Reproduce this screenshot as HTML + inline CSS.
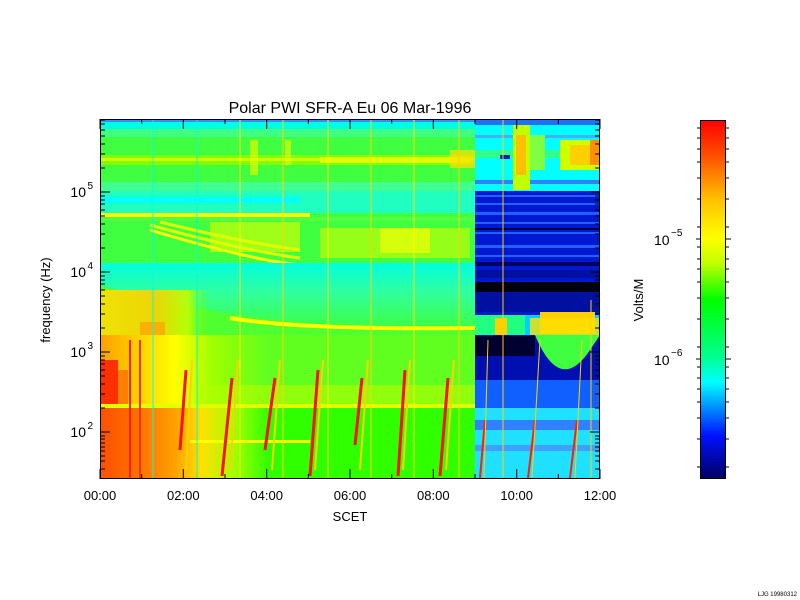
<!DOCTYPE html>
<html><head><meta charset="utf-8"><style>
html,body{margin:0;padding:0;background:#fff;width:800px;height:600px;overflow:hidden}
svg{display:block}
text{font-family:"Liberation Sans",sans-serif;fill:#000}
</style></head><body>
<svg width="800" height="600" viewBox="0 0 800 600" xmlns="http://www.w3.org/2000/svg">
<defs>
<linearGradient id="cb" x1="0" y1="1" x2="0" y2="0">
<stop offset="0" stop-color="#000060"/>
<stop offset="0.12" stop-color="#0010ff"/>
<stop offset="0.27" stop-color="#00ffff"/>
<stop offset="0.34" stop-color="#00ff90"/>
<stop offset="0.5" stop-color="#00ff00"/>
<stop offset="0.6" stop-color="#c0ff00"/>
<stop offset="0.67" stop-color="#ffff00"/>
<stop offset="0.78" stop-color="#ffc000"/>
<stop offset="0.9" stop-color="#ff5000"/>
<stop offset="1" stop-color="#ff0000"/>
</linearGradient>
<linearGradient id="lowL" x1="0" y1="0" x2="1" y2="0">
<stop offset="0" stop-color="#ff5000"/>
<stop offset="0.1" stop-color="#ff7000"/>
<stop offset="0.2" stop-color="#ffa000"/>
<stop offset="0.27" stop-color="#ffe000"/>
<stop offset="0.36" stop-color="#a0ff00"/>
<stop offset="0.45" stop-color="#30ff00"/>
<stop offset="1" stop-color="#30ff00"/>
</linearGradient>
<linearGradient id="midL" x1="0" y1="0" x2="1" y2="0">
<stop offset="0" stop-color="#ffa000"/>
<stop offset="0.1" stop-color="#ffd000"/>
<stop offset="0.2" stop-color="#ffff00"/>
<stop offset="0.3" stop-color="#a0ff00"/>
<stop offset="0.45" stop-color="#60ff20"/>
<stop offset="1" stop-color="#60ff20"/>
</linearGradient>
<linearGradient id="blobL" x1="0" y1="0" x2="1" y2="0">
<stop offset="0" stop-color="#ffe000"/>
<stop offset="0.5" stop-color="#ffd000"/>
<stop offset="0.8" stop-color="#c0ff00"/>
<stop offset="1" stop-color="#60ff20" stop-opacity="0"/>
</linearGradient>
<linearGradient id="cyanG" x1="0" y1="0" x2="0" y2="1">
<stop offset="0" stop-color="#00ffe0"/>
<stop offset="0.4" stop-color="#30ffa0"/>
<stop offset="1" stop-color="#40ff30"/>
</linearGradient>
</defs>

<!-- Left part (0-9h) -->
<rect x="100" y="119" width="375" height="360" fill="#30ff30"/>
<rect x="100" y="119" width="375" height="72" fill="#40ff40"/>
<rect x="100" y="119" width="375" height="3" fill="#3090ff"/>
<rect x="100" y="122" width="375" height="7" fill="#00ffe0"/>
<rect x="100" y="129" width="375" height="8" fill="#40ff80"/>
<rect x="100" y="155" width="375" height="10" fill="#80ff00"/>
<rect x="100" y="158" width="375" height="3" fill="#d0ff00"/>
<rect x="320" y="157" width="150" height="6" fill="#e0ff00"/>
<rect x="450" y="150" width="25" height="18" fill="#ffe000" opacity="0.7"/>
<rect x="100" y="182" width="375" height="9" fill="#40ff90"/>
<rect x="250" y="140" width="8" height="35" fill="#e0ff00" opacity="0.7"/>
<rect x="285" y="140" width="6" height="25" fill="#e0ff00" opacity="0.7"/>
<rect x="100" y="191" width="375" height="72" fill="#40ff40"/>
<rect x="100" y="191" width="375" height="22" fill="#20ffc0"/>
<rect x="100" y="197" width="200" height="6" fill="#00ffff"/>
<rect x="100" y="213" width="210" height="4" fill="#ffff00"/>
<rect x="100" y="217" width="375" height="4" fill="#50ff40"/>
<path d="M150 230 Q250 260 300 265" stroke="#ffff00" stroke-width="3" fill="none"/>
<path d="M150 225 Q240 250 300 258" stroke="#e0ff00" stroke-width="3" fill="none"/>
<path d="M160 222 Q240 242 300 250" stroke="#e0ff00" stroke-width="3" fill="none"/>
<rect x="210" y="222" width="90" height="30" fill="#e0ff00" opacity="0.6"/>
<rect x="320" y="228" width="150" height="30" fill="#d0ff00" opacity="0.6"/>
<rect x="380" y="228" width="50" height="25" fill="#ffff00" opacity="0.6"/>
<rect x="100" y="263" width="375" height="72" fill="url(#cyanG)"/>
<path d="M100 285 Q250 330 475 330 L475 335 L100 335 Z" fill="#50ff30"/>
<path d="M230 318 Q300 330 475 328" stroke="#ffff00" stroke-width="4" fill="none"/>
<rect x="100" y="290" width="110" height="45" fill="url(#blobL)" opacity="0.9"/>
<rect x="140" y="322" width="25" height="13" fill="#ffa000" opacity="0.7"/>
<rect x="100" y="335" width="375" height="73" fill="url(#midL)"/>
<rect x="100" y="360" width="18" height="48" fill="#ff3000"/>
<rect x="118" y="370" width="10" height="38" fill="#ff8000"/>
<rect x="200" y="385" width="275" height="20" fill="#b0ff00" opacity="0.6"/>
<rect x="100" y="404" width="375" height="4" fill="#e0ff00"/>
<rect x="100" y="408" width="375" height="71" fill="url(#lowL)"/>
<rect x="190" y="440" width="120" height="3" fill="#ffff00"/>
<g>
<line x1="153" y1="119" x2="153" y2="479" stroke="#00ffe0" stroke-width="1"/>
<line x1="130" y1="340" x2="130" y2="479" stroke="#ff2000" stroke-width="2"/>
<line x1="140" y1="340" x2="140" y2="479" stroke="#ff3000" stroke-width="2"/>
<line x1="197" y1="119" x2="197" y2="479" stroke="#00ffd0" stroke-width="1"/>
<line x1="240" y1="119" x2="240" y2="479" stroke="#ffff00" stroke-width="1"/>
<line x1="283" y1="119" x2="283" y2="479" stroke="#ffd000" stroke-width="1"/>
<line x1="328" y1="119" x2="328" y2="479" stroke="#ffff00" stroke-width="1"/>
<line x1="371" y1="119" x2="371" y2="479" stroke="#ffd000" stroke-width="1"/>
<line x1="414" y1="119" x2="414" y2="479" stroke="#ffff00" stroke-width="1"/>
<line x1="459" y1="119" x2="459" y2="479" stroke="#ffd000" stroke-width="1"/>
</g>
<g stroke="#ff1000" stroke-width="3" fill="none">
<path d="M186 370 L180 450"/>
<path d="M232 378 L222 476"/>
<path d="M275 378 L265 450"/>
<path d="M318 370 L310 476"/>
<path d="M362 378 L355 445"/>
<path d="M405 370 L398 476"/>
<path d="M448 378 L440 476"/>
</g>
<g stroke="#ffd000" stroke-width="2" fill="none">
<path d="M192 360 L186 470"/>
<path d="M238 360 L230 470"/>
<path d="M280 360 L272 470"/>
<path d="M323 360 L315 470"/>
<path d="M368 360 L360 470"/>
<path d="M410 360 L403 470"/>
<path d="M454 360 L446 470"/>
</g>

<!-- Right part -->
<rect x="475" y="119" width="125" height="72" fill="#00ffff"/>
<rect x="475" y="119" width="125" height="6" fill="#2070ff"/>
<rect x="475" y="135" width="125" height="3" fill="#40b0ff"/>
<rect x="475" y="180" width="125" height="4" fill="#3080ff"/>
<rect x="475" y="150" width="125" height="8" fill="#30ff90"/>
<rect x="513" y="125" width="17" height="65" fill="#c0ff00"/>
<rect x="516" y="135" width="10" height="40" fill="#ffc000"/>
<rect x="530" y="135" width="15" height="35" fill="#80ff40"/>
<rect x="560" y="140" width="40" height="30" fill="#d0ff00"/>
<rect x="570" y="145" width="30" height="20" fill="#ffd000"/>
<rect x="590" y="140" width="10" height="25" fill="#ff9000"/>
<rect x="500" y="155" width="10" height="4" fill="#0020c0"/>
<rect x="475" y="191" width="125" height="144" fill="#0018d0"/>
<g fill="#2060ff">
<rect x="475" y="195" width="125" height="2"/><rect x="475" y="203" width="125" height="2"/>
<rect x="475" y="212" width="125" height="3"/><rect x="475" y="222" width="125" height="2"/>
<rect x="475" y="232" width="125" height="2"/><rect x="475" y="245" width="125" height="3"/>
<rect x="475" y="255" width="125" height="2"/>
</g>
<rect x="475" y="228" width="125" height="2" fill="#000040"/>
<rect x="475" y="262" width="125" height="4" fill="#000060"/>
<rect x="475" y="270" width="125" height="8" fill="#0010a0"/>
<rect x="475" y="282" width="125" height="10" fill="#000010"/>
<rect x="475" y="292" width="125" height="20" fill="#0010a0"/>
<rect x="475" y="315" width="125" height="20" fill="#00d0ff"/>
<rect x="475" y="315" width="50" height="20" fill="#20ff80"/>
<rect x="495" y="318" width="12" height="17" fill="#ffd000"/>
<rect x="540" y="312" width="55" height="22" fill="#ffd000"/>
<rect x="530" y="318" width="70" height="17" fill="#ffe000" opacity="0.8"/>
<rect x="475" y="335" width="125" height="73" fill="#0010b0"/>
<rect x="475" y="336" width="60" height="20" fill="#000030"/>
<path d="M535 335 Q560 395 590 350 L600 335 Z" fill="#40ff40"/>
<rect x="475" y="380" width="125" height="28" fill="#1060ff"/>
<rect x="475" y="408" width="125" height="71" fill="#20e0ff"/>
<rect x="475" y="420" width="125" height="10" fill="#3080ff"/>
<rect x="475" y="445" width="125" height="6" fill="#40a0ff"/>
<g stroke="#ff2000" stroke-width="2">
<path d="M485 420 L480 478"/><path d="M535 420 L528 478"/><path d="M577 420 L570 478"/>
</g>
<g stroke="#ffd000" stroke-width="1">
<path d="M488 340 L484 478"/><path d="M540 340 L532 478"/><path d="M582 340 L575 478"/>
<path d="M503 119 L503 479"/><path d="M591 300 L591 479"/>
</g>

<rect x="100.5" y="119.5" width="499" height="359" fill="none" stroke="#000" stroke-width="1"/>
<g stroke="#000" stroke-width="1">
<path d="M100 479v-10M183.3 479v-10M266.7 479v-10M350 479v-10M433.3 479v-10M516.7 479v-10M600 479v-10"/>
<path d="M100 119v10M183.3 119v10M266.7 119v10M350 119v10M433.3 119v10M516.7 119v10M600 119v10"/>
<path d="M141.7 479v-5M225 479v-5M308.3 479v-5M391.7 479v-5M475 479v-5M558.3 479v-5"/>
<path d="M141.7 119v5M225 119v5M308.3 119v5M391.7 119v5M475 119v5M558.3 119v5"/>
<path d="M100 192h10M100 272h10M100 352h10M100 432h10M600 192h-10M600 272h-10M600 352h-10M600 432h-10"/>
<path d="M100 469h5M100 461h5M100 456h5M100 451h5M100 447h5M100 443h5M100 439h5M100 436h5
M100 408h5M100 394h5M100 384h5M100 376h5M100 370h5M100 364h5M100 360h5M100 356h5
M100 328h5M100 314h5M100 304h5M100 296h5M100 290h5M100 284h5M100 280h5M100 276h5
M100 248h5M100 234h5M100 224h5M100 216h5M100 210h5M100 204h5M100 200h5M100 196h5
M100 168h5M100 154h5M100 144h5M100 136h5M100 130h5M100 124h5M100 120h5"/>
<path d="M600 469h-5M600 461h-5M600 456h-5M600 451h-5M600 447h-5M600 443h-5M600 439h-5M600 436h-5
M600 408h-5M600 394h-5M600 384h-5M600 376h-5M600 370h-5M600 364h-5M600 360h-5M600 356h-5
M600 328h-5M600 314h-5M600 304h-5M600 296h-5M600 290h-5M600 284h-5M600 280h-5M600 276h-5
M600 248h-5M600 234h-5M600 224h-5M600 216h-5M600 210h-5M600 204h-5M600 200h-5M600 196h-5
M600 168h-5M600 154h-5M600 144h-5M600 136h-5M600 130h-5M600 124h-5M600 120h-5"/>
</g>

<text x="350" y="113" font-size="16" text-anchor="middle">Polar PWI SFR-A Eu  06 Mar-1996</text>
<g font-size="13" text-anchor="middle">
<text x="100" y="500">00:00</text><text x="183.3" y="500">02:00</text><text x="266.7" y="500">04:00</text>
<text x="350" y="500">06:00</text><text x="433.3" y="500">08:00</text><text x="516.7" y="500">10:00</text>
<text x="600" y="500">12:00</text>
</g>
<text x="350" y="521" font-size="13" text-anchor="middle">SCET</text>
<g font-size="14" text-anchor="end">
<text x="86" y="197">10</text><text x="93" y="189" font-size="10">5</text>
<text x="86" y="277">10</text><text x="93" y="269" font-size="10">4</text>
<text x="86" y="357">10</text><text x="93" y="349" font-size="10">3</text>
<text x="86" y="437">10</text><text x="93" y="429" font-size="10">2</text>
</g>
<text transform="translate(50,300) rotate(-90)" font-size="13" text-anchor="middle">frequency (Hz)</text>

<rect x="700" y="120" width="26" height="359" fill="url(#cb)"/>
<rect x="700.5" y="120.5" width="25" height="358" fill="none" stroke="#000"/>
<g stroke="#000">
<path d="M726 239h5M726 359h5M700 239h-4M700 359h-4"/>
<path d="M726 128h3M726 138h3M726 149h3M726 162h3M726 178h3M726 199h3M726 227h3M726 247h3M726 259h3M726 269h3M726 282h3M726 298h3M726 319h3M726 347h3M726 367h3M726 378h3M726 389h3M726 402h3M726 418h3M726 439h3M726 467h3"/>
<path d="M700 128h-3M700 138h-3M700 149h-3M700 162h-3M700 178h-3M700 199h-3M700 227h-3M700 247h-3M700 259h-3M700 269h-3M700 282h-3M700 298h-3M700 319h-3M700 347h-3M700 367h-3M700 378h-3M700 389h-3M700 402h-3M700 418h-3M700 439h-3M700 467h-3"/>
</g>
<g font-size="14">
<text x="654" y="245">10</text><text x="671" y="236" font-size="10">−5</text>
<text x="654" y="365">10</text><text x="671" y="356" font-size="10">−6</text>
</g>
<text transform="translate(643,300) rotate(-90)" font-size="13" text-anchor="middle">Volts/M</text>
<text x="797" y="596" font-size="6" text-anchor="end">LJG 19980312</text>
</svg>
</body></html>
